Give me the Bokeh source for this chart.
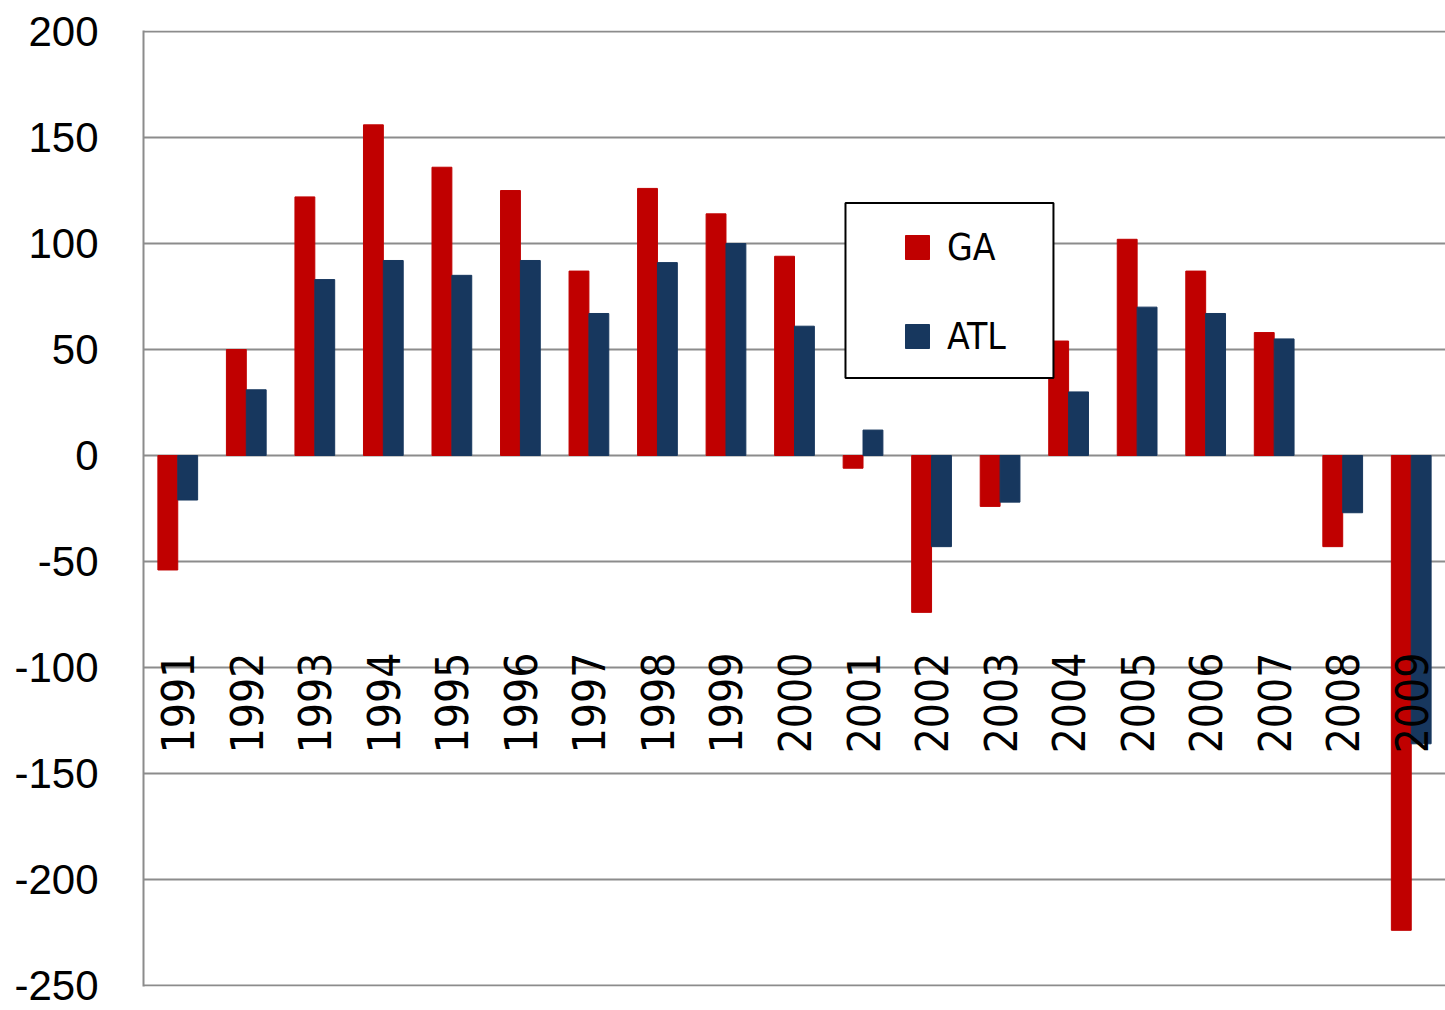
import math
from bokeh.plotting import figure
from bokeh.models import (ColumnDataSource, FactorRange, Range1d, Legend, LegendItem,
                          BoxAnnotation, CustomJSTickFormatter)
from bokeh.transform import dodge
from bokeh.core.properties import value
from bokeh.embed import file_html
from bokeh.resources import INLINE

years = ["1991", "1992", "1993", "1994", "1995", "1996", "1997", "1998", "1999", "2000",
         "2001", "2002", "2003", "2004", "2005", "2006", "2007", "2008", "2009"]
ga = [-54, 50, 122, 156, 136, 125, 87, 126, 114, 94, -6, -74, -24, 54, 102, 87, 58, -43, -224]
atl = [-21, 31, 83, 92, 85, 92, 67, 91, 100, 61, 12, -43, -22, 30, 70, 67, 55, -27, -136]
series_names = ["GA", "ATL"]
y_ticks = [-250, -200, -150, -100, -50, 0, 50, 100, 150, 200]

RED = "#C00000"
NAVY = "#17375E"
GRID = "#8C8C8C"
LABEL_Y = -93

src = ColumnDataSource(data=dict(year=years, ga=ga, atl=atl, label_y=[LABEL_Y] * len(years)))

p = figure(width=1445, height=1010, x_range=FactorRange(*years), y_range=Range1d(-250.5, 200.5),
           output_backend="svg", toolbar_location=None,
           min_border_left=143, min_border_right=0, min_border_top=30, min_border_bottom=24)

r_ga = p.vbar(x=dodge("year", -0.145, range=p.x_range), top="ga", width=0.29, source=src,
              fill_color=RED, line_color=RED)
r_atl = p.vbar(x=dodge("year", 0.145, range=p.x_range), top="atl", width=0.29, source=src,
               fill_color=NAVY, line_color=NAVY)

# category labels drawn inside the plot, rotated
p.text(x="year", y="label_y", text="year", source=src, angle=math.pi / 2,
       text_align="right", text_baseline="middle",
       text_font=value("DejaVu Sans Condensed"), text_font_size="44px", text_color="black")

# legend frame
p.add_layout(BoxAnnotation(left=10.244, right=13.279, top=119.1, bottom=36.6,
                           fill_color="white", fill_alpha=1.0,
                           line_color="black", line_alpha=1.0, line_width=2))

# legend proxies (zero-size markers, only used for the legend swatches)
lg_ga = p.scatter(x="year", y="ga", source=src, marker="square", size=0, fill_color=RED, line_color=RED)
lg_atl = p.scatter(x="year", y="atl", source=src, marker="square", size=0, fill_color=NAVY, line_color=NAVY)

legend = Legend(items=[LegendItem(label=series_names[0], renderers=[lg_ga]),
                       LegendItem(label=series_names[1], renderers=[lg_atl])],
                location=(744, 620), orientation="vertical",
                glyph_width=60, glyph_height=60, padding=0, spacing=29, label_standoff=0,
                label_text_font="DejaVu Sans Condensed", label_text_font_size="37px",
                label_text_color="black",
                border_line_color=None, background_fill_alpha=0.0)
p.add_layout(legend, "center")

p.xaxis.visible = False
p.xgrid.visible = False
p.yaxis.ticker = y_ticks
p.yaxis.formatter = CustomJSTickFormatter(code="return tick.toFixed(0);")
p.ygrid.grid_line_color = GRID
p.ygrid.grid_line_width = 2
p.yaxis.axis_line_color = GRID
p.yaxis.axis_line_width = 2
p.yaxis.major_tick_line_color = None
p.yaxis.minor_tick_line_color = None
p.yaxis.major_label_standoff = 39
p.yaxis.major_label_text_font = "Liberation Sans"
p.yaxis.major_label_text_font_size = "42px"
p.yaxis.major_label_text_color = "black"
p.outline_line_color = None
p.background_fill_color = "white"

open("out.html", "w").write(file_html(p, INLINE))
